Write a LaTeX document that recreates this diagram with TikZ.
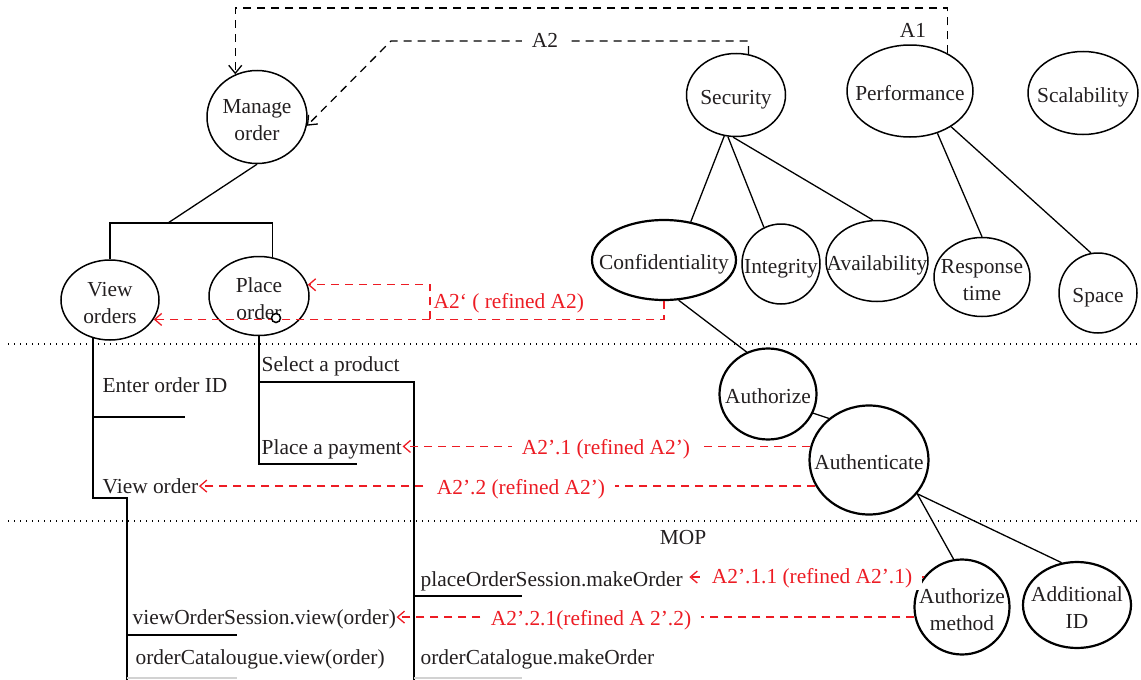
\documentclass[tikz,border=0pt]{standalone}
\usepackage{fontspec}
\setmainfont{Liberation Serif}
\usetikzlibrary{shapes.geometric,arrows.meta}
\definecolor{ink}{HTML}{231F20}
\definecolor{refred}{HTML}{ED1C24}
\newcommand{\nt}[1]{\makebox[0pt]{\raisebox{-2.2pt}[\height][\depth]{\begin{tabular}{@{}c@{}}#1\end{tabular}}}}
\begin{document}
\begin{tikzpicture}[x=0.5pt,y=-0.5pt,line width=0.65pt,font=\fontsize{10.7}{13.5}\selectfont,text=ink,
goal/.style={shape=ellipse,draw=black,line width=0.75pt,inner sep=0pt},
goalT/.style={goal,line width=1.1pt},
act/.style={anchor=base west,inner sep=0pt},
lab/.style={text=refred,fill=white,inner xsep=5pt,inner ysep=1pt,anchor=base},
dep/.style={dash pattern=on 4pt off 3pt,-{Straight Barb[length=4pt,width=6.5pt]}},
refd/.style={draw=refred,dash pattern=on 4pt off 3pt,-{Straight Barb[length=3.5pt,width=6pt]}},
divider/.style={dash pattern=on 0.6pt off 2.4pt}]
\useasboundingbox (0,0) rectangle (1141,680);

\draw[divider] (8,344) -- (1141,344);
\draw[divider] (8,521) -- (1141,521);

\node[goal,minimum width=50pt,minimum height=46.5pt] (M) at (257,117) {\nt{Manage\\order}};
\node[goal,minimum width=49pt,minimum height=40pt] (VO) at (110,300) {\nt{View\\orders}};
\node[goal,minimum width=50pt,minimum height=39.5pt] (PO) at (259,296) {\nt{Place\\order}};

\node[goal,minimum width=49.5pt,minimum height=41.5pt] (Sec) at (736,95) {\nt{Security}};
\node[goal,minimum width=63pt,minimum height=46pt] (Perf) at (910,91) {\nt{Performance}};
\node[goal,minimum width=55pt,minimum height=41.5pt] (Scal) at (1083,93) {\nt{Scalability}};
\node[goalT,minimum width=72pt,minimum height=40pt] (Conf) at (664,260) {\nt{Confidentiality}};
\node[goal,minimum width=39pt,minimum height=40pt] (Int) at (781,264) {\nt{Integrity}};
\node[goal,minimum width=51pt,minimum height=40.5pt] (Avail) at (877,261) {\nt{Availability}};
\node[goal,minimum width=48pt,minimum height=39.5pt] (Resp) at (982,277) {\nt{Response\\time}};
\node[goal,minimum width=39pt,minimum height=40pt] (Space) at (1098,293) {\nt{Space}};
\node[goalT,minimum width=48.5pt,minimum height=45.5pt] (Authz) at (768,394) {\nt{Authorize}};
\node[goalT,minimum width=59.5pt,minimum height=54.5pt] (Authn) at (869,460) {\nt{Authenticate}};
\node[goalT,minimum width=47.5pt,minimum height=47.5pt] (AuthM) at (962,607) {\nt{Authorize\\method}};
\node[goalT,minimum width=54pt,minimum height=43pt] (AddID) at (1077,605) {\nt{Additional\\ID}};

\draw (Sec.254) -- (Conf.55);
\draw (Sec.259) -- (Int.115);
\draw (Sec.266) -- (Avail.96);
\draw (Perf.303) -- (Resp.north);
\draw (Perf.319) -- (Space.100);
\draw (Conf.290) -- (Authz.117);
\draw (Authz.337) -- (Authn.134);
\draw (Authn.325) -- (AuthM.100);
\draw (Authn.325) -- (AddID.110);

\node[act] (EO) at (102,392) {Enter order ID};
\node[act] (VOr) at (102,493) {View order};
\node[act] (SP) at (261,371) {Select a product};
\node[act] (PP) at (261,454) {Place a payment};
\node[act] (VOS) at (132,624) {viewOrderSession.view(order)};
\node[act] (OCV) at (135,664) {orderCatalougue.view(order)};
\node[act] (POS) at (420,586) {placeOrderSession.makeOrder};
\node[act] (OCM) at (420,664) {orderCatalogue.makeOrder};
\node[anchor=base] (MOP) at (683,544) {MOP};

\coordinate (base) at (0,680);
\coordinate (brk) at (168,223);
\draw (M.south) -- (brk);
\draw (VO.north) |- (brk) -| (PO.71);
\coordinate (EOend) at (185,417);
\coordinate (lcorner) at (127,498);
\draw (VO.246) |- (EOend);
\draw (VO.246) |- (lcorner) -- (lcorner |- base);
\coordinate (VOSend) at (237,635);
\draw (lcorner |- VOSend) -- (VOSend);
\coordinate (PPend) at (357,464);
\coordinate (SPend) at (414,382);
\coordinate (POSend) at (522,596);
\draw (PO.south) |- (PPend);
\draw (PO.south |- SPend) -- (SPend) -- (SPend |- base);
\draw (SPend |- POSend) -- (POSend);
\coordinate (fadeL) at (237,678);
\coordinate (fadeR) at (522,678);
\draw[gray!35] (lcorner |- fadeL) -- (fadeL);
\draw[gray!35] (SPend |- fadeR) -- (fadeR);

\coordinate (top) at (0,8);
\draw[dep] (Perf.45) |- (M.117 |- top) -- (M.117);
\node[anchor=base] (A1) at (913,37) {A1};
\coordinate (A2c) at (391,41);
\draw[dep] (Sec.73) |- (A2c) -- (M.350);
\node[fill=white,inner xsep=5pt,anchor=base] (A2) at (545,47) {A2};

\draw[refd] (Conf.south) |- (VO.336);
\coordinate (br) at (430,0);
\draw[refd] (br |- VO.336) |- (PO.13);
\node[text=refred,anchor=base west,inner sep=0pt] (L2) at (433,308) {A2‘ ( refined A2)};
\node[circle,draw=black,fill=white,inner sep=0pt,minimum size=4.5pt,line width=0.75pt] (hole) at (276,318) {};

\draw[refd] (Authn.167) -- (PP.east |- Authn.167);
\node[lab] (L21) at (606,454) {A2’.1 (refined A2’)};
\draw[refd] (Authn.206) -- (VOr.east |- Authn.206);
\node[lab] (L22) at (521,494) {A2’.2 (refined A2’)};
\draw[refd,shorten >=3pt] (AuthM.142) -- (POS.east |- AuthM.142);
\node[lab] (L211) at (812,583) {A2’.1.1 (refined A2’.1)};
\draw[refd] (AuthM.192) -- (VOS.east |- AuthM.192);
\node[lab] (L221) at (591,625) {A2’.2.1(refined A 2’.2)};
\end{tikzpicture}
\end{document}
